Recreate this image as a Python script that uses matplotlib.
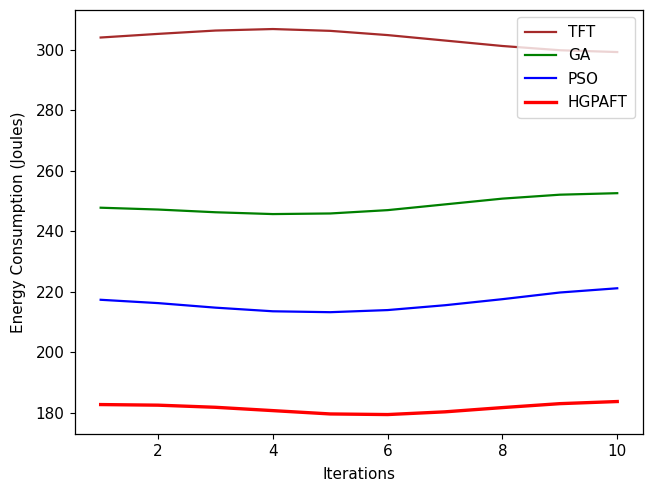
import matplotlib
matplotlib.use("Agg")
import matplotlib.pyplot as plt

iterations = [1, 2, 3, 4, 5, 6, 7, 8, 9, 10]
tft = [304.0, 305.2, 306.3, 306.8, 306.2, 304.8, 303.0, 301.2, 299.8, 299.2]
ga = [247.8, 247.2, 246.3, 245.7, 245.9, 247.0, 248.9, 250.8, 252.1, 252.6]
pso = [217.4, 216.3, 214.8, 213.6, 213.3, 214.0, 215.6, 217.6, 219.8, 221.2]
hgpaft = [182.8, 182.6, 181.9, 180.8, 179.7, 179.5, 180.4, 181.8, 183.1, 183.8]

plt.rcParams["font.size"] = 11
plt.rcParams["xtick.major.size"] = 3.9
plt.rcParams["ytick.major.size"] = 3.9
plt.rcParams["axes.linewidth"] = 0.9

fig = plt.figure(figsize=(6.45, 4.88), dpi=100)
ax = fig.add_axes([0.116, 0.111, 0.881, 0.869])

ax.plot(iterations, tft, color="brown", linewidth=1.6, label="TFT")
ax.plot(iterations, ga, color="green", linewidth=1.6, label="GA")
ax.plot(iterations, pso, color="blue", linewidth=1.6, label="PSO")
ax.plot(iterations, hgpaft, color="red", linewidth=2.4, label="HGPAFT")

ax.set_xlabel("Iterations", labelpad=6)
ax.set_ylabel("Energy Consumption (Joules)", labelpad=7)
ax.legend(loc="upper right", borderpad=0.5, labelspacing=0.55)

fig.savefig("out.png", dpi=100)
